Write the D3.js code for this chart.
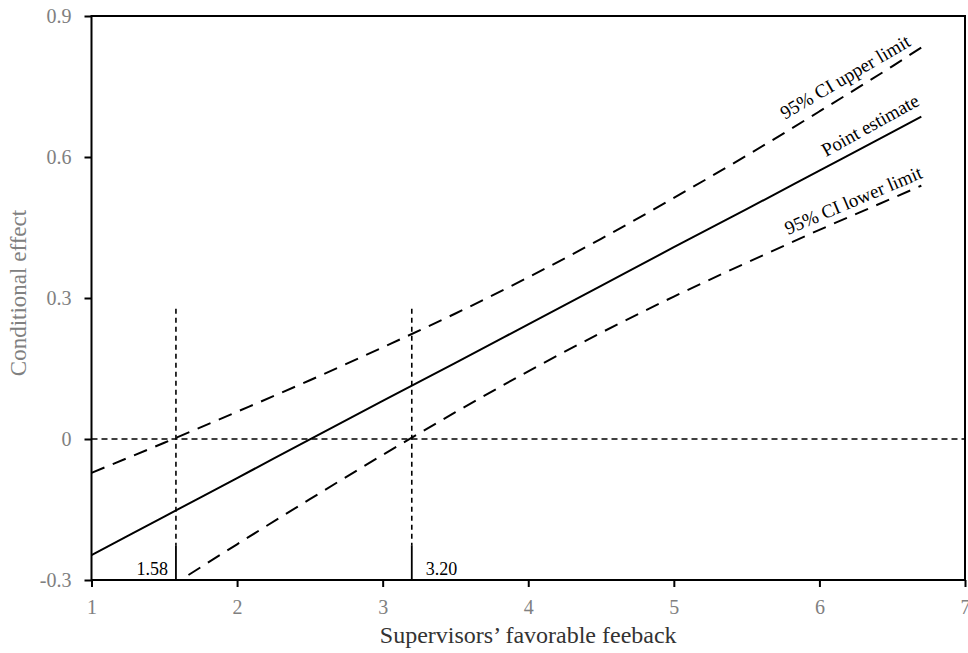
<!DOCTYPE html>
<html><head><meta charset="utf-8">
<script src="https://cdn.jsdelivr.net/npm/d3@7"></script>
<style>body{margin:0;background:#fff}svg{display:block}</style>
</head><body>
<script>
// ---- data ----
const xVals     = [1, 1.5, 2, 2.5, 3, 3.5, 4, 4.5, 5, 5.5, 6, 6.5, 6.7];
const pointEst  = [-0.247, -0.165, -0.083, -0.001, 0.081, 0.162, 0.244, 0.326, 0.408, 0.489, 0.571, 0.653, 0.686];
const upperCI   = [-0.072, -0.008, 0.058, 0.125, 0.195, 0.267, 0.344, 0.426, 0.513, 0.603, 0.697, 0.793, 0.833];
const lowerCI   = [-0.421, -0.322, -0.224, -0.128, -0.034, 0.057, 0.144, 0.226, 0.303, 0.375, 0.445, 0.512, 0.539];
const jnPoints  = [1.58, 3.20];
const jnLabels  = ["1.58", "3.20"];
const xTicks    = [1, 2, 3, 4, 5, 6, 7];
const yTicks    = [-0.3, 0, 0.3, 0.6, 0.9];
const lineLabels = ["95% CI upper limit", "Point estimate", "95% CI lower limit"];
const xTitle = "Supervisors\u2019 favorable feeback";
const yTitle = "Conditional effect";

const W = 968, H = 653;
const L = 91.5, R = 965, T = 16, B = 580;
const serif = "'Liberation Serif','Times New Roman',serif";

const svg = d3.select("body").append("svg").attr("width", W).attr("height", H);
const x = d3.scaleLinear().domain([1, 7]).range([L, R]);
const y = d3.scaleLinear().domain([-0.3, 0.9]).range([B, T]);

svg.append("clipPath").attr("id", "clip").append("rect")
  .attr("x", L).attr("y", T).attr("width", R - L).attr("height", B - T);

// axes
const fmt = d => d === 0 ? "0" : d.toFixed(1);
const gy = svg.append("g").attr("transform", `translate(${L},0)`)
  .call(d3.axisLeft(y).tickValues(yTicks).tickFormat(fmt).tickSize(7).tickSizeOuter(0).tickPadding(13));
const gx = svg.append("g").attr("transform", `translate(0,${B})`)
  .call(d3.axisBottom(x).tickValues(xTicks).tickFormat(d3.format("d")).tickSize(7).tickSizeOuter(0).tickPadding(13));
[gx, gy].forEach(g => {
  g.select(".domain").remove();
  g.selectAll("line").attr("stroke", "#000").attr("stroke-width", 2);
  g.selectAll("text").attr("font-family", serif).attr("font-size", 20).attr("fill", "#808080");
});

// frame
svg.append("rect").attr("x", x(1)).attr("y", y(0.9)).attr("width", x(7) - x(1)).attr("height", y(-0.3) - y(0.9))
  .attr("fill", "none").attr("stroke", "#000").attr("stroke-width", 2);

const plot = svg.append("g").attr("clip-path", "url(#clip)");

// zero reference line
plot.append("line").attr("x1", x(1)).attr("x2", x(7)).attr("y1", y(0)).attr("y2", y(0))
  .attr("stroke", "#000").attr("stroke-width", 1.6).attr("stroke-dasharray", "6,4");

// Johnson-Neyman lines
jnPoints.forEach((p, i) => {
  plot.append("line").attr("x1", x(p)).attr("x2", x(p)).attr("y1", y(0.277)).attr("y2", y(-0.226))
    .attr("stroke", "#000").attr("stroke-width", 1.6).attr("stroke-dasharray", "5,4");
  svg.append("line").attr("x1", x(p)).attr("x2", x(p)).attr("y1", y(-0.226)).attr("y2", y(-0.3))
    .attr("stroke", "#000").attr("stroke-width", 1.8);
  svg.append("text").attr("x", i === 0 ? x(p) - 8 : x(p) + 14).attr("y", y(-0.3) - 5)
    .attr("text-anchor", i === 0 ? "end" : "start")
    .attr("font-family", serif).attr("font-size", 18).attr("fill", "#000").text(jnLabels[i]);
});

const line = d3.line().x(d => x(d[0])).y(d => y(d[1])).curve(d3.curveMonotoneX);
const series = [
  {vals: upperCI, dash: "14,9"},
  {vals: pointEst, dash: null},
  {vals: lowerCI, dash: "14,9"}
];
series.forEach(s => {
  plot.append("path").datum(xVals.map((v, i) => [v, s.vals[i]])).attr("d", line)
    .attr("fill", "none").attr("stroke", "#000").attr("stroke-width", 2)
    .attr("stroke-dasharray", s.dash);
});

// line labels
const lab = [
  {t: lineLabels[0], px: 5.763, py: 0.679, a: -30.5},
  {t: lineLabels[1], px: 6.045, py: 0.600, a: -29},
  {t: lineLabels[2], px: 5.784, py: 0.434, a: -23}
];
lab.forEach(d => {
  svg.append("text").attr("transform", `translate(${x(d.px)},${y(d.py)}) rotate(${d.a})`)
    .attr("font-family", serif).attr("font-size", 19).attr("fill", "#000").text(d.t);
});

// titles
svg.append("text").attr("x", (L + R) / 2).attr("y", 643).attr("text-anchor", "middle")
  .attr("font-family", serif).attr("font-size", 24).attr("fill", "#333").text(xTitle);
svg.append("text").attr("transform", `translate(26,293) rotate(-90)`).attr("text-anchor", "middle")
  .attr("font-family", serif).attr("font-size", 23).attr("fill", "#808080").text(yTitle);
</script>
</body></html>
